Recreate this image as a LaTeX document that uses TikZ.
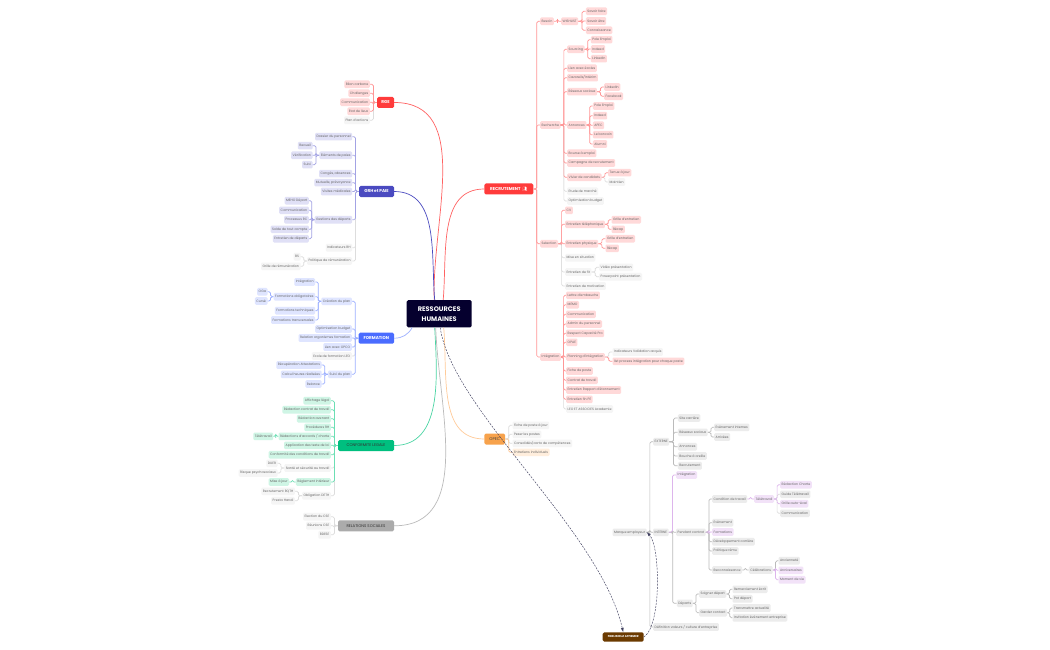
\documentclass[tikz,border=0pt]{standalone}
\usepackage{fontspec}
\setmainfont{Poppins}
\newfontfamily\iconfont{Noto Emoji}
\usepackage{xcolor}
\usetikzlibrary{calc,positioning}
\definecolor{pinkfill}{HTML}{FFD9D9}
\definecolor{pinkdraw}{HTML}{FF9696}
\definecolor{lavfill}{HTML}{E0E0F6}
\definecolor{lavdraw}{HTML}{A3A3E4}
\definecolor{bluefill}{HTML}{DFE5FF}
\definecolor{bluedraw}{HTML}{9DB0FF}
\definecolor{mintfill}{HTML}{CFF5E5}
\definecolor{mintdraw}{HTML}{6CDFB4}
\definecolor{greyfill}{HTML}{F5F5F5}
\definecolor{greydraw}{HTML}{DDDDDD}
\definecolor{midfill}{HTML}{ECECEC}
\definecolor{middraw}{HTML}{BBBBBB}
\definecolor{purplefill}{HTML}{F2E2F8}
\definecolor{purpledraw}{HTML}{DDB5EC}
\definecolor{peachfill}{HTML}{FFEEDD}
\definecolor{peachdraw}{HTML}{FFCB99}
\definecolor{rhfill}{HTML}{05002E}
\definecolor{rgefill}{HTML}{FF3B3B}
\definecolor{grhfill}{HTML}{4A4AC0}
\definecolor{formfill}{HTML}{4A6CFF}
\definecolor{conffill}{HTML}{00BF7F}
\definecolor{socfill}{HTML}{ABABAB}
\definecolor{opecfill}{HTML}{F7A24C}
\definecolor{fidfill}{HTML}{6B3A00}
\definecolor{hintdraw}{HTML}{3F3F5F}
\tikzset{
    leaf/.style = {rounded corners=1.2pt, inner xsep=1.5pt, inner ysep=0pt, minimum height=7.6pt, text=black!60, font=\fontsize{3.25}{4}\selectfont},
    pinkleaf/.style = {leaf, fill=pinkfill},
    lavleaf/.style = {leaf, fill=lavfill},
    blueleaf/.style = {leaf, fill=bluefill},
    mintleaf/.style = {leaf, fill=mintfill},
    greyleaf/.style = {leaf, fill=greyfill},
    midleaf/.style = {leaf, fill=midfill},
    purpleleaf/.style = {leaf, fill=purplefill},
    peachleaf/.style = {leaf, fill=peachfill},
    branch/.style = {rounded corners=1.5pt, inner sep=0pt, minimum height=11pt, text=white, font=\fontsize{4.2}{5}\selectfont\bfseries},
    tree/.style = {rounded corners=1.5pt, line width=.7pt, to path={-| ($(\tikztostart)!.5!(\tikztotarget)$) |- (\tikztotarget)}},
    pinkline/.style = {tree, pinkdraw},
    lavline/.style = {tree, lavdraw},
    blueline/.style = {tree, bluedraw},
    mintline/.style = {tree, mintdraw},
    greyline/.style = {tree, greydraw},
    midline/.style = {tree, middraw},
    purpleline/.style = {tree, purpledraw},
    peachline/.style = {tree, peachdraw},
    trunk/.style = {line width=.7pt},
    hint/.style = {line width=.45pt, dash pattern=on 2pt off 1.2pt, color=hintdraw, ->, >=latex},
}
\begin{document}
\begin{tikzpicture}[x=1pt, y=-1pt]
    \useasboundingbox [fill=white] (0,0) rectangle (1050,650);

    % centre and main branches
    \node [rounded corners=1.5pt, fill=rhfill, text=white, align=center, minimum width=65pt, minimum height=27.3pt, inner sep=0pt, font=\fontsize{6.6}{10}\selectfont\bfseries] (rh) at (439.2,313.7) {RESSOURCES\\HUMAINES};
    \node [branch, fill=rgefill, minimum width=17pt] (rge) at (385.5,102.5) {RGE};
    \node [branch, fill=grhfill, minimum width=35pt] (grh) at (376.5,191.5) {GRH et PAIE};
    \node [branch, fill=formfill, minimum width=35.5pt] (formation) at (376.3,338.2) {FORMATION};
    \node [branch, fill=conffill, minimum width=56pt, text=black!80, font=\fontsize{3.9}{5}\selectfont] (conformite) at (366,445.5) {CONFORMITE LEGALE};
    \node [branch, fill=socfill, minimum width=56pt, text=black!80, font=\fontsize{3.9}{5}\selectfont] (sociales) at (366,525.8) {RELATIONS SOCIALES};
    \node [branch, fill=rgefill, minimum width=49pt] (recrutement) at (508.8,189) {RECRUTEMENT\, {\iconfont 👥}};
    \node [branch, fill=opecfill, minimum width=20.7pt, text=black!75, font=\fontsize{4}{5}\selectfont] (opec) at (494.7,439) {OPEC};
    \node [branch, fill=fidfill, minimum width=41pt, minimum height=9.4pt, font=\fontsize{2.8}{4}\selectfont\bfseries] (fideliser) at (623.2,637) {FIDELISER et AFFIRMER};

    \draw [trunk, rgefill!80!white] (rge.east) to [out=0, in=92] ([xshift=-5pt]rh.north);
    \draw [trunk, grhfill] (grh.east) to [out=0, in=95] ([xshift=-4.5pt]rh.north);
    \draw [trunk, bluedraw] (formation.east) to [out=0, in=-120] ([xshift=-27pt]rh.south);
    \draw [trunk, mintdraw!70!conffill] (conformite.east) to [out=0, in=-87] ([xshift=-4.5pt]rh.south);
    \draw [trunk, middraw] (sociales.east) to [out=0, in=-88] ([xshift=-3.5pt]rh.south);
    \draw [trunk, rgefill!80!white] (recrutement.west) to [out=180, in=85] ([xshift=4pt]rh.north);
    \draw [trunk, peachdraw] (opec.west) to [out=180, in=-85] ([xshift=4.5pt]rh.south);

    % RGE
    \node [pinkleaf, anchor=east] (bilan) at (370,84.3) {Bilan carbone};
    \node [pinkleaf, anchor=east] (challenges) at (370,93.3) {Challenges};
    \node [pinkleaf, anchor=east] (comrge) at (370,102.3) {Communication};
    \node [pinkleaf, anchor=east] (etat) at (370,111.3) {Etat de lieux};
    \node [greyleaf, anchor=east] (plan) at (370,120.3) {Plan d'actions};
    \draw [greyline] (rge.west) to (plan.east);
    \foreach \child in {bilan,challenges,comrge,etat}
        \draw [pinkline] (rge.west) to (\child.east);

    % GRH et PAIE
    \node [lavleaf, anchor=east] (dossier) at (352.3,136.7) {Dossier du personnel};
    \node [lavleaf, anchor=east] (paies) at (352.3,155.3) {Eléments de paies};
    \node [lavleaf, anchor=east] (recueil) at (312.7,145.7) {Recueil};
    \node [lavleaf, anchor=east] (verif) at (312.7,155.3) {Vérification};
    \node [lavleaf, anchor=east] (suivi) at (312.7,164.7) {Suivi};
    \node [lavleaf, anchor=east] (conges) at (352.3,173.7) {Congés, absences};
    \node [lavleaf, anchor=east] (mutuelle) at (352.3,182.7) {Mutuelle, prévoyance};
    \node [lavleaf, anchor=east] (visites) at (352.3,191.5) {Visites médicales};
    \node [lavleaf, anchor=east] (gestion) at (352.3,219.7) {Gestions des départs};
    \node [lavleaf, anchor=east] (meho) at (309,200.7) {MEHO Départ};
    \node [lavleaf, anchor=east] (comdep) at (309,210.3) {Communication};
    \node [lavleaf, anchor=east] (processus) at (309,219.7) {Processus RC};
    \node [lavleaf, anchor=east] (solde) at (309,229.3) {Solde de tout compte};
    \node [lavleaf, anchor=east] (entdep) at (309,238.7) {Entretien de départs};
    \node [greyleaf, anchor=east] (indic) at (352.3,247.7) {Indicateurs RH};
    \node [greyleaf, anchor=east] (politique) at (352.3,261) {Politique de rémunération};
    \node [greyleaf, anchor=east] (bs) at (300.7,256.7) {BS};
    \node [greyleaf, anchor=east] (grille) at (300.7,266.3) {Grille de rémunération};
    \foreach \child in {indic,politique}
        \draw [greyline] (grh.west) to (\child.east);
    \foreach \child in {bs,grille}
        \draw [greyline] (politique.west) to (\child.east);
    \foreach \child in {dossier,paies,conges,mutuelle,visites,gestion}
        \draw [lavline] (grh.west) to (\child.east);
    \foreach \child in {recueil,verif,suivi}
        \draw [lavline] (paies.west) to (\child.east);
    \foreach \child in {meho,comdep,processus,solde,entdep}
        \draw [lavline] (gestion.west) to (\child.east);

    % FORMATION
    \node [blueleaf, anchor=east] (creation) at (352,301.3) {Création du plan};
    \node [blueleaf, anchor=east] (integform) at (315.3,282) {Intégration};
    \node [blueleaf, anchor=east] (oblig) at (315.3,296.7) {Formations obligatoires};
    \node [blueleaf, anchor=east] (oga) at (267.7,291.7) {OGa};
    \node [blueleaf, anchor=east] (curse) at (267.7,301) {Cursé};
    \node [blueleaf, anchor=east] (techn) at (315.3,310.7) {Formations techniques};
    \node [blueleaf, anchor=east] (transv) at (315.3,320) {Formations transversales};
    \node [blueleaf, anchor=east] (optform) at (352,329) {Optimisation budget};
    \node [blueleaf, anchor=east] (organismes) at (352,338) {Relation organismes formation};
    \node [blueleaf, anchor=east] (opco) at (352,347) {Lien avec OPCO};
    \node [greyleaf, anchor=east] (ecole) at (352,356) {Ecole de formation LEO};
    \node [blueleaf, anchor=east] (suiviplan) at (352,374.3) {Suivi du plan};
    \node [blueleaf, anchor=east] (recup) at (321.7,365) {Récupération Attestations};
    \node [blueleaf, anchor=east] (heures) at (321.7,374.3) {Calcul heures réalisées};
    \node [blueleaf, anchor=east] (relance) at (321.7,384) {Relance};
    \draw [greyline] (formation.west) to (ecole.east);
    \foreach \child in {creation,optform,organismes,opco,suiviplan}
        \draw [blueline] (formation.west) to (\child.east);
    \foreach \child in {integform,oblig,techn,transv}
        \draw [blueline] (creation.west) to (\child.east);
    \foreach \child in {oga,curse}
        \draw [blueline] (oblig.west) to (\child.east);
    \foreach \child in {recup,heures,relance}
        \draw [blueline] (suiviplan.west) to (\child.east);

    % CONFORMITE LEGALE
    \node [mintleaf, anchor=east] (affichage) at (331,400.7) {Affichage légal};
    \node [mintleaf, anchor=east] (contrat) at (331,409.7) {Rédaction contrat de travail};
    \node [mintleaf, anchor=east] (avenant) at (331,418.7) {Rédaction avenant};
    \node [mintleaf, anchor=east] (procedures) at (331,427.3) {Procédures RH};
    \node [mintleaf, anchor=east] (accords) at (331,436.3) {Rédactions d'accords / charte};
    \node [mintleaf, anchor=east] (teleleg) at (273.3,436.3) {Télétravail};
    \node [mintleaf, anchor=east] (application) at (331,445.3) {Application des texte de loi};
    \node [mintleaf, anchor=east] (conditions) at (331,454.7) {Conformité des conditions de travail};
    \node [greyleaf, anchor=east] (sante) at (331,468) {Santé et sécurité au travail};
    \node [greyleaf, anchor=east] (duer) at (277.7,463.3) {DUER};
    \node [greyleaf, anchor=east] (risque) at (277.7,473) {Risque psychosociaux};
    \node [mintleaf, anchor=east] (reglement) at (331,482) {Règlement intérieur};
    \node [mintleaf, anchor=east] (majreg) at (289.3,482) {Mise à jour};
    \node [greyleaf, anchor=east] (deth) at (331,495.7) {Obligation DETH};
    \node [greyleaf, anchor=east] (rqth) at (295,491.3) {Recrutement RQTH};
    \node [greyleaf, anchor=east] (presta) at (295,500.7) {Presta Handi};
    \foreach \child in {sante,deth}
        \draw [greyline] (conformite.west) to (\child.east);
    \foreach \child in {duer,risque}
        \draw [greyline] (sante.west) to (\child.east);
    \foreach \child in {rqth,presta}
        \draw [greyline] (deth.west) to (\child.east);
    \foreach \child in {affichage,contrat,avenant,procedures,accords,application,conditions,reglement}
        \draw [mintline] (conformite.west) to (\child.east);
    \draw [mintline] (accords.west) to (teleleg.east);
    \draw [mintline] (reglement.west) to (majreg.east);

    % RELATIONS SOCIALES
    \node [greyleaf, anchor=east] (election) at (331,516.7) {Election du CSE};
    \node [greyleaf, anchor=east] (reunions) at (331,525.7) {Réunions CSE};
    \node [greyleaf, anchor=east] (bdese) at (331,534.7) {BDESE};
    \foreach \child in {election,reunions,bdese}
        \draw [greyline] (sociales.west) to (\child.east);

    % RECRUTEMENT, besoin et recherche
    \node [pinkleaf, anchor=west] (besoin) at (540,21.3) {Besoin};
    \node [pinkleaf, anchor=west] (wishlist) at (561,21.3) {WISHLIST};
    \node [pinkleaf, anchor=west] (faire) at (585.7,11.3) {Savoir faire};
    \node [pinkleaf, anchor=west] (etre) at (585.7,21) {Savoir être};
    \node [pinkleaf, anchor=west] (connaissance) at (585.7,30.3) {Connaissance};
    \node [pinkleaf, anchor=west] (recherche) at (540,125) {Recherche};
    \node [pinkleaf, anchor=west] (sourcing) at (567,49.3) {Sourcing};
    \node [pinkleaf, anchor=west] (pole) at (590.7,39.7) {Pole Emploi};
    \node [pinkleaf, anchor=west] (indeed) at (590.7,49) {Indeed};
    \node [pinkleaf, anchor=west] (linkedin) at (590.7,58.7) {LinkedIn};
    \node [pinkleaf, anchor=west] (ecoles) at (567,68.3) {Lien avec écoles};
    \node [pinkleaf, anchor=west] (cazoreils) at (567,77.7) {Cazoreils/Intérim};
    \node [pinkleaf, anchor=west] (reseaux) at (567,91.7) {Réseaux sociaux};
    \node [pinkleaf, anchor=west] (linkedinb) at (604,87) {LinkedIn};
    \node [pinkleaf, anchor=west] (facebook) at (604,96.3) {Facebook};
    \node [pinkleaf, anchor=west] (annonces) at (567,125) {Annonces};
    \node [pinkleaf, anchor=west] (poleb) at (592.7,106) {Pole Emploi};
    \node [pinkleaf, anchor=west] (indeedb) at (592.7,115.7) {Indeed};
    \node [pinkleaf, anchor=west] (apec) at (592.7,125.3) {APEC};
    \node [pinkleaf, anchor=west] (boncoin) at (592.7,134.7) {Le boncoin};
    \node [pinkleaf, anchor=west] (alumni) at (592.7,144) {Alumni};
    \node [pinkleaf, anchor=west] (bourse) at (567,153.3) {Bourse à emploi};
    \node [pinkleaf, anchor=west] (campagne) at (567,163) {Campagne de recrutement};
    \node [pinkleaf, anchor=west] (vivier) at (567,177.3) {Vivier de candidats};
    \node [pinkleaf, anchor=west] (tenue) at (608,172.7) {Tenue à jour};
    \node [greyleaf, anchor=west] (maintien) at (608,182) {Maintien};
    \node [greyleaf, anchor=west] (etude) at (567,191.3) {Etude de marché};
    \node [greyleaf, anchor=west] (optrec) at (567,201) {Optimisation budget};

    % RECRUTEMENT, selection
    \node [pinkleaf, anchor=west] (selection) at (540,243.7) {Selection};
    \node [pinkleaf, anchor=west] (cv) at (565,210.3) {CV};
    \node [pinkleaf, anchor=west] (telephone) at (565,224.3) {Entretien téléphonique};
    \node [pinkleaf, anchor=west] (grillea) at (611.3,219.7) {Grille d'entretien};
    \node [pinkleaf, anchor=west] (recapa) at (611.3,229.3) {Récap};
    \node [pinkleaf, anchor=west] (physique) at (565,243.7) {Entretien physique};
    \node [pinkleaf, anchor=west] (grilleb) at (605.3,238.7) {Grille d'entretien};
    \node [pinkleaf, anchor=west] (recapb) at (605.3,248.3) {Récap};
    \node [greyleaf, anchor=west] (situation) at (565,257.7) {Mise en situation};
    \node [greyleaf, anchor=west] (fit) at (565,272) {Entretien de fit};
    \node [greyleaf, anchor=west] (video) at (599,267.3) {Vidéo présentation};
    \node [greyleaf, anchor=west] (powerpoint) at (599,276.7) {Powerpoint présentation};
    \node [greyleaf, anchor=west] (motivation) at (565,286) {Entretien de motivation};

    % RECRUTEMENT, integration
    \node [pinkleaf, anchor=west] (integration) at (540,357) {Intégration};
    \node [pinkleaf, anchor=west] (lettre) at (566,295.3) {Lettre d'embauche};
    \node [pinkleaf, anchor=west] (memo) at (566,304.7) {MEMO};
    \node [pinkleaf, anchor=west] (comint) at (566,314.3) {Communication};
    \node [pinkleaf, anchor=west] (admin) at (566,324) {Admin du personnel};
    \node [pinkleaf, anchor=west] (capacite) at (566,333.3) {Respect Capacité Pro};
    \node [pinkleaf, anchor=west] (opae) at (566,342.3) {OPAE};
    \node [pinkleaf, anchor=west] (planning) at (566,357) {Planning d'intégration};
    \node [greyleaf, anchor=west] (validation) at (612.3,352) {Indicateurs Validation acquis};
    \node [pinkleaf, anchor=west] (process) at (612.3,361.3) {list process intégration pour chaque poste};
    \node [pinkleaf, anchor=west] (fiche) at (566,371) {Fiche de poste};
    \node [pinkleaf, anchor=west] (travail) at (566,380.3) {Contrat de travail};
    \node [pinkleaf, anchor=west] (rapport) at (566,390) {Entretien Rapport d'étonnement};
    \node [pinkleaf, anchor=west] (finpe) at (566,399.3) {Entretien fin PE};
    \node [greyleaf, anchor=west] (leo) at (566,409) {LEO ET ASSOCIES Academie};

    \draw [greyline] (vivier.east) to (maintien.west);
    \foreach \child in {etude,optrec}
        \draw [greyline] (recherche.east) to (\child.west);
    \foreach \child in {situation,fit,motivation}
        \draw [greyline] (selection.east) to (\child.west);
    \foreach \child in {video,powerpoint}
        \draw [greyline] (fit.east) to (\child.west);
    \draw [greyline] (integration.east) to (leo.west);
    \draw [greyline] (planning.east) to (validation.west);
    \foreach \child in {besoin,recherche,selection,integration}
        \draw [pinkline] (recrutement.east) to (\child.west);
    \draw [pinkline] (besoin.east) to (wishlist.west);
    \foreach \child in {faire,etre,connaissance}
        \draw [pinkline] (wishlist.east) to (\child.west);
    \foreach \child in {sourcing,ecoles,cazoreils,reseaux,annonces,bourse,campagne,vivier}
        \draw [pinkline] (recherche.east) to (\child.west);
    \foreach \child in {pole,indeed,linkedin}
        \draw [pinkline] (sourcing.east) to (\child.west);
    \foreach \child in {linkedinb,facebook}
        \draw [pinkline] (reseaux.east) to (\child.west);
    \foreach \child in {poleb,indeedb,apec,boncoin,alumni}
        \draw [pinkline] (annonces.east) to (\child.west);
    \draw [pinkline] (vivier.east) to (tenue.west);
    \foreach \child in {cv,telephone,physique}
        \draw [pinkline] (selection.east) to (\child.west);
    \foreach \child in {grillea,recapa}
        \draw [pinkline] (telephone.east) to (\child.west);
    \foreach \child in {grilleb,recapb}
        \draw [pinkline] (physique.east) to (\child.west);
    \foreach \child in {lettre,memo,comint,admin,capacite,opae,planning,fiche,travail,rapport,finpe}
        \draw [pinkline] (integration.east) to (\child.west);
    \draw [pinkline] (planning.east) to (process.west);

    % OPEC
    \node [greyleaf, anchor=west] (ficheopec) at (512.3,425.3) {Fiche de poste à jour};
    \node [greyleaf, anchor=west] (peser) at (512.3,434.3) {Peser les postes};
    \node [greyleaf, anchor=west] (carto) at (512.3,443.3) {Consolidés/carto de compétences};
    \node [peachleaf, anchor=west] (individuels) at (512.3,452.3) {Entretiens individuels};
    \foreach \child in {ficheopec,peser,carto}
        \draw [greyline] (opec.east) to (\child.west);
    \draw [peachline] (opec.east) to (individuels.west);

    % FIDELISER et AFFIRMER
    \node [midleaf, anchor=east] (marque) at (646.7,532.3) {Marque employeur};
    \node [midleaf, anchor=west] (externe) at (653,441.7) {EXTERNE};
    \node [midleaf, anchor=west] (carriere) at (677.7,418) {Site carrière};
    \node [midleaf, anchor=west] (resext) at (677.7,432.3) {Réseaux sociaux};
    \node [midleaf, anchor=west] (internes) at (714,427.3) {Evènement internes};
    \node [midleaf, anchor=west] (arrivees) at (714,437) {Arrivées};
    \node [midleaf, anchor=west] (annext) at (677.7,446.7) {Annonces};
    \node [midleaf, anchor=west] (bouche) at (677.7,456) {Bouche à oreille};
    \node [midleaf, anchor=west] (recrutext) at (677.7,465.7) {Recrutement};
    \node [midleaf, anchor=west] (interne) at (653,532.3) {INTERNE};
    \node [purpleleaf, anchor=west] (integint) at (676,475) {Intégration};
    \node [midleaf, anchor=west] (pendant) at (676,532.3) {Pendant contrat};
    \node [midleaf, anchor=west] (condition) at (712,499) {Condition de travail};
    \node [purpleleaf, anchor=west] (teletravail) at (754,499) {Télétravail};
    \node [purpleleaf, anchor=west] (charte) at (780,484.7) {Rédaction Charte};
    \node [midleaf, anchor=west] (guide) at (780,494.3) {Guide Télétravail};
    \node [purpleleaf, anchor=west] (autoeval) at (780,503.7) {Grille auto-éval};
    \node [midleaf, anchor=west] (comtele) at (780,513.3) {Communication};
    \node [midleaf, anchor=west] (evenement) at (712,522.7) {Evènement};
    \node [purpleleaf, anchor=west] (formint) at (712,532) {Formations};
    \node [midleaf, anchor=west] (carriereint) at (712,541.7) {Développement carrière};
    \node [midleaf, anchor=west] (remun) at (712,551) {Politique rému};
    \node [midleaf, anchor=west] (reconnaissance) at (712,570) {Reconnaissance};
    \node [midleaf, anchor=west] (celebrations) at (748.7,570) {Célébrations};
    \node [midleaf, anchor=west] (anciennete) at (778.3,560.7) {Ancienneté};
    \node [purpleleaf, anchor=west] (anniv) at (778.3,570.3) {Anniversaires};
    \node [purpleleaf, anchor=west] (moment) at (778.3,579.7) {Moment de vie};
    \node [midleaf, anchor=west] (departs) at (676.7,603.3) {Départs};
    \node [midleaf, anchor=west] (soigner) at (699,594) {Soigner départ};
    \node [midleaf, anchor=west] (remerciement) at (732.3,589.3) {Remerciement écrit};
    \node [midleaf, anchor=west] (pot) at (732.3,598.7) {Pot départ};
    \node [midleaf, anchor=west] (garder) at (699,612.7) {Garder contact};
    \node [midleaf, anchor=west] (actualite) at (732.3,608) {Transmettre actualité};
    \node [midleaf, anchor=west] (invitation) at (732.3,617.7) {Invitation évènement entreprise};
    \node [midleaf, anchor=west] (valeurs) at (653,627) {Définition valeurs / culture d'entreprise};

    \foreach \child in {externe,interne,valeurs}
        \draw [midline] (marque.east) to (\child.west);
    \foreach \child in {carriere,resext,annext,bouche,recrutext}
        \draw [midline] (externe.east) to (\child.west);
    \foreach \child in {internes,arrivees}
        \draw [midline] (resext.east) to (\child.west);
    \foreach \child in {pendant,departs}
        \draw [midline] (interne.east) to (\child.west);
    \foreach \child in {condition,evenement,carriereint,remun,reconnaissance}
        \draw [midline] (pendant.east) to (\child.west);
    \foreach \child in {guide,comtele}
        \draw [greyline] (teletravail.east) to (\child.west);
    \draw [midline] (reconnaissance.east) to (celebrations.west);
    \draw [midline] (celebrations.east) to (anciennete.west);
    \foreach \child in {soigner,garder}
        \draw [midline] (departs.east) to (\child.west);
    \foreach \child in {remerciement,pot}
        \draw [midline] (soigner.east) to (\child.west);
    \foreach \child in {actualite,invitation}
        \draw [midline] (garder.east) to (\child.west);
    \draw [purpleline] (interne.east) to (integint.west);
    \draw [purpleline] (pendant.east) to (formint.west);
    \draw [purpleline] (condition.east) to (teletravail.west);
    \foreach \child in {charte,autoeval}
        \draw [purpleline] (teletravail.east) to (\child.west);
    \foreach \child in {anniv,moment}
        \draw [purpleline] (celebrations.east) to (\child.west);

    % relations en pointilles
    \draw [hint] ([xshift=1pt]rh.south) .. controls (452,410) and (600,530) .. (fideliser.north);
    \draw [hint] (fideliser.east) .. controls (662,625) and (660,545) .. (marque.east);
\end{tikzpicture}
\end{document}
